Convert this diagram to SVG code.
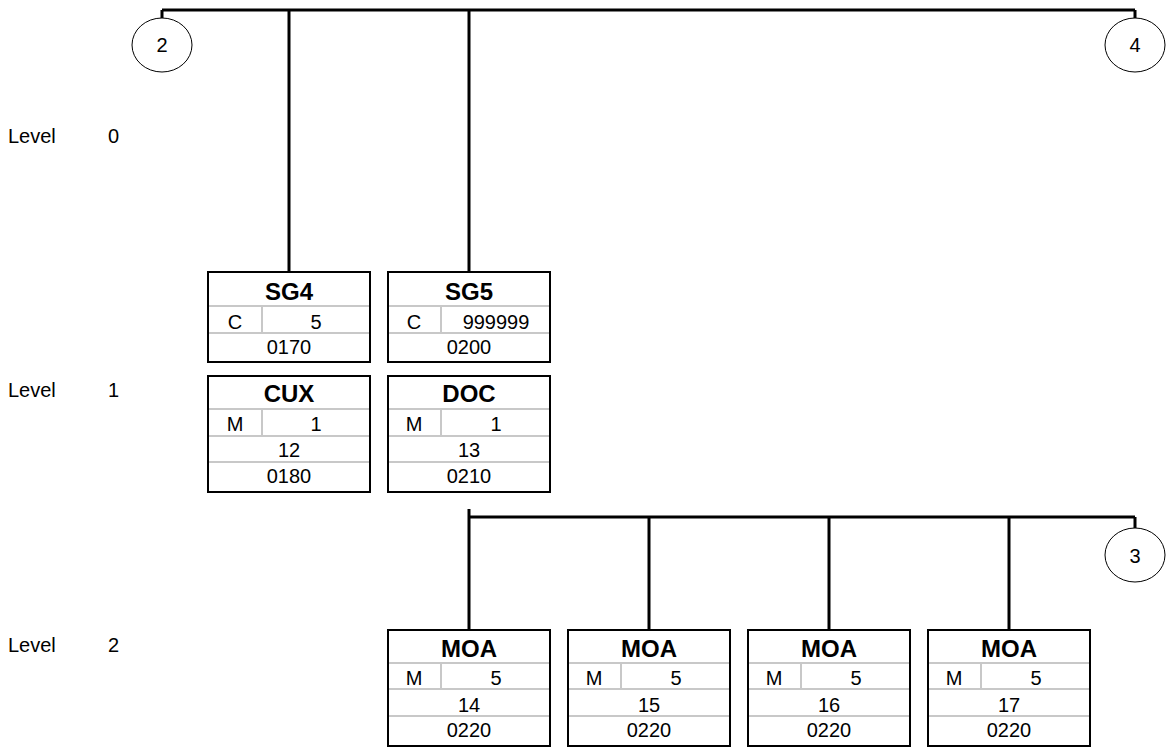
<svg xmlns="http://www.w3.org/2000/svg" width="1166" height="754" viewBox="0 0 1166 754">
<style>
text{font-family:"Liberation Sans",Arial,sans-serif;fill:#000}
.t{font-size:20px;text-anchor:middle}
.h{font-size:24px;font-weight:bold;text-anchor:middle}
.lv{font-size:20px}
.box{fill:#fff;stroke:#000;stroke-width:2}
.in{stroke:#c8c8c8;stroke-width:2;fill:none}
.con{stroke:#000;stroke-width:3;fill:none}
.cir{fill:#fff;stroke:#000;stroke-width:1}
</style>
<rect width="1166" height="754" fill="#fff"/>
<g id="levels">
<text class="lv" x="8" y="143">Level</text><text class="lv" x="108" y="143">0</text>
<text class="lv" x="8" y="397">Level</text><text class="lv" x="108" y="397">1</text>
<text class="lv" x="8" y="652">Level</text><text class="lv" x="108" y="652">2</text>
</g>
<g id="connectors">
<path class="con" d="M162,10 H1135 M162,10 V18 M1135,10 V18 M289,10 V272 M469,10 V272"/>
<path class="con" d="M469,517 H1135 M1135,517 V528 M469,509 V630 M649,517 V630 M829,517 V630 M1009,517 V630"/>
</g>
<g id="c2"><ellipse class="cir" cx="162" cy="45" rx="30" ry="27"/><text class="t" x="162" y="52">2</text></g>
<g id="c4"><ellipse class="cir" cx="1135" cy="45" rx="30" ry="27"/><text class="t" x="1135" y="52">4</text></g>
<g id="c3"><ellipse class="cir" cx="1135" cy="555" rx="30" ry="27"/><text class="t" x="1135" y="563">3</text></g>
<g id="sg4">
<rect class="box" x="208" y="272" width="162" height="90"/>
<path class="in" d="M209,306 H369 M209,333 H369 M262,306 V333"/>
<text class="h" x="289" y="300">SG4</text>
<text class="t" x="235" y="329">C</text><text class="t" x="316" y="329">5</text>
<text class="t" x="289" y="354">0170</text>
</g>
<g id="sg5">
<rect class="box" x="388" y="272" width="162" height="90"/>
<path class="in" d="M389,306 H549 M389,333 H549 M441,306 V333"/>
<text class="h" x="469" y="300">SG5</text>
<text class="t" x="414" y="329">C</text><text class="t" x="496" y="329">999999</text>
<text class="t" x="469" y="354">0200</text>
</g>
<g id="cux">
<rect class="box" x="208" y="376" width="162" height="116"/>
<path class="in" d="M209,409 H369 M209,436 H369 M209,462 H369 M262,409 V436"/>
<text class="h" x="289" y="402">CUX</text>
<text class="t" x="235" y="431">M</text><text class="t" x="316" y="431">1</text>
<text class="t" x="289" y="457">12</text>
<text class="t" x="289" y="483">0180</text>
</g>
<g id="doc">
<rect class="box" x="388" y="376" width="162" height="116"/>
<path class="in" d="M389,409 H549 M389,436 H549 M389,462 H549 M441,409 V436"/>
<text class="h" x="469" y="402">DOC</text>
<text class="t" x="414" y="431">M</text><text class="t" x="496" y="431">1</text>
<text class="t" x="469" y="457">13</text>
<text class="t" x="469" y="483">0210</text>
</g>
<g id="moa14">
<rect class="box" x="388" y="630" width="162" height="116"/>
<path class="in" d="M389,663 H549 M389,689 H549 M389,716 H549 M441,663 V689"/>
<text class="h" x="469" y="657">MOA</text>
<text class="t" x="414" y="685">M</text><text class="t" x="496" y="685">5</text>
<text class="t" x="469" y="712">14</text>
<text class="t" x="469" y="737">0220</text>
</g>
<g id="moa15">
<rect class="box" x="568" y="630" width="162" height="116"/>
<path class="in" d="M569,663 H729 M569,689 H729 M569,716 H729 M621,663 V689"/>
<text class="h" x="649" y="657">MOA</text>
<text class="t" x="594" y="685">M</text><text class="t" x="676" y="685">5</text>
<text class="t" x="649" y="712">15</text>
<text class="t" x="649" y="737">0220</text>
</g>
<g id="moa16">
<rect class="box" x="748" y="630" width="162" height="116"/>
<path class="in" d="M749,663 H909 M749,689 H909 M749,716 H909 M801,663 V689"/>
<text class="h" x="829" y="657">MOA</text>
<text class="t" x="774" y="685">M</text><text class="t" x="856" y="685">5</text>
<text class="t" x="829" y="712">16</text>
<text class="t" x="829" y="737">0220</text>
</g>
<g id="moa17">
<rect class="box" x="928" y="630" width="162" height="116"/>
<path class="in" d="M929,663 H1089 M929,689 H1089 M929,716 H1089 M981,663 V689"/>
<text class="h" x="1009" y="657">MOA</text>
<text class="t" x="954" y="685">M</text><text class="t" x="1036" y="685">5</text>
<text class="t" x="1009" y="712">17</text>
<text class="t" x="1009" y="737">0220</text>
</g>
</svg>
